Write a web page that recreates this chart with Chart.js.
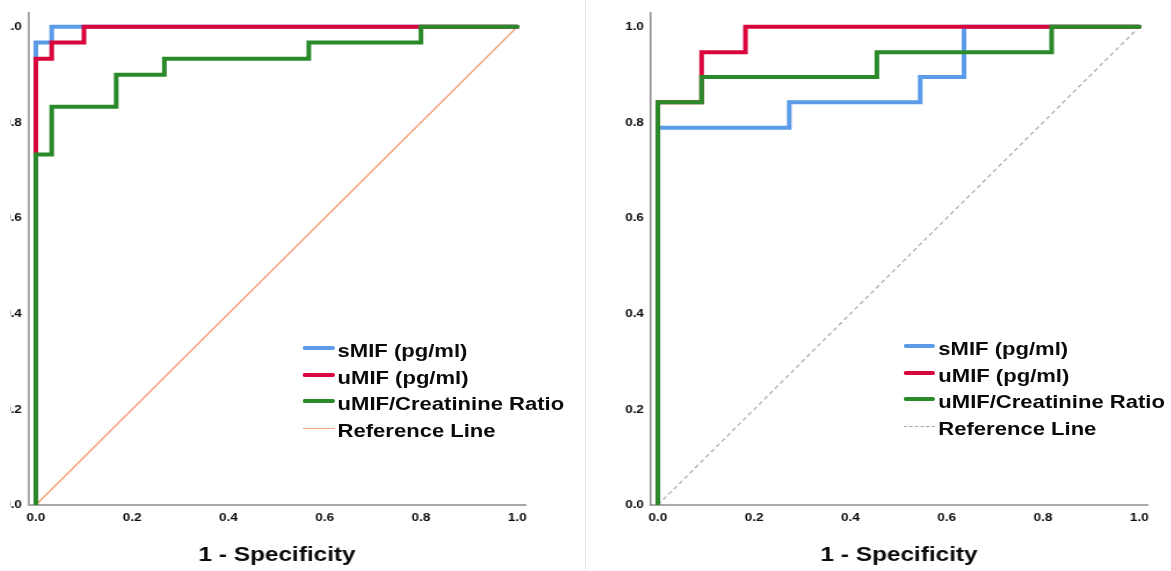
<!DOCTYPE html>
<html>
<head>
<meta charset="utf-8">
<script src="https://cdn.jsdelivr.net/npm/chart.js@4.4.1/dist/chart.umd.min.js"></script>
<style>
  body { margin: 0; width: 1171px; height: 571px; overflow: hidden; background: #fff; font-family: "Liberation Sans", Arial, sans-serif; }
  .clip { position: absolute; top: 0; height: 571px; overflow: hidden; }
  .panel { position: absolute; top: 0; width: 468px; height: 571px; transform: scaleX(1.16); transform-origin: 0 0; }
  .panel canvas { position: absolute; left: 0; top: 0; }
  .legend { position: absolute; font-weight: bold; font-size: 19px; color: #0a0a0a; }
  .legend .row { display: flex; align-items: center; height: 26.7px; white-space: nowrap; }
  .legend .swatch { width: 27.6px; margin-right: 2.6px; position: relative; top: -3px; }
  .divider { position: absolute; left: 585px; top: 0; width: 1px; height: 571px; background: #e8e8e8; }
</style>
</head>
<body>
<div class="clip" style="left:10px; width:575px;">
  <div class="panel" style="left:-15.8px;">
    <canvas id="rocLeft" width="468" height="571"></canvas>
    <div class="legend" id="legendLeft" style="left:266px; top:337.6px;"></div>
  </div>
</div>
<div class="divider"></div>
<div class="panel" style="left:615.7px;">
  <canvas id="rocRight" width="468" height="571"></canvas>
  <div class="legend" id="legendRight" style="left:247.7px; top:335.6px;"></div>
</div>

<script>
// series names and tick labels
const seriesLabels = ['sMIF (pg/ml)', 'uMIF (pg/ml)', 'uMIF/Creatinine Ratio'];
const refLabel = 'Reference Line';
const tickValues = [0, 0.2, 0.4, 0.6, 0.8, 1.0];
const xTitle = '1 - Specificity';

// left panel: ROC points (1 - specificity, sensitivity)
const leftSmifFpr = [0, 0, 0.033, 1];
const leftSmifTpr = [0, 0.967, 1, 1];
const leftUmifFpr = [0, 0, 0.033, 0.1, 1];
const leftUmifTpr = [0, 0.933, 0.967, 1, 1];
const leftRatioFpr = [0, 0, 0.033, 0.167, 0.267, 0.567, 0.8, 1];
const leftRatioTpr = [0, 0.733, 0.833, 0.9, 0.933, 0.967, 1, 1];

// right panel
const rightSmifFpr = [0, 0, 0.273, 0.545, 0.636, 1];
const rightSmifTpr = [0, 0.789, 0.842, 0.895, 1, 1];
const rightUmifFpr = [0, 0, 0.091, 0.182, 1];
const rightUmifTpr = [0, 0.842, 0.947, 1, 1];
const rightRatioFpr = [0, 0, 0.091, 0.455, 0.818, 1];
const rightRatioTpr = [0, 0.842, 0.895, 0.947, 1, 1];

const refFpr = [0, 1];
const refTpr = [0, 1];

const seriesColors = ['#5b9be8', '#d8063c', '#2a8a2a'];

Chart.defaults.font.family = '"Liberation Sans", Arial, sans-serif';

function toPoints(xs, ys) {
    return xs.map((x, i) => ({ x: x, y: ys[i] }));
}

function rocDataset(label, xs, ys, color, order) {
    return {
        label: label,
        data: toPoints(xs, ys),
        borderColor: color,
        borderWidth: 4,
        borderCapStyle: 'round',
        borderJoinStyle: 'miter',
        stepped: 'before',
        pointRadius: 0,
        fill: false,
        order: order
    };
}

function setTicks(scale) {
    scale.ticks = tickValues.map(v => ({ value: v }));
}

function buildChart(canvasId, curves, ref, axis) {
    const datasets = curves.map((c, i) => rocDataset(seriesLabels[i], c[0], c[1], seriesColors[i], 3 - i));
    datasets.push({
        label: refLabel,
        data: toPoints(refFpr, refTpr),
        borderColor: ref.color,
        borderWidth: ref.width,
        borderDash: ref.dash,
        pointRadius: 0,
        fill: false,
        order: 10
    });

    const tickOpts = {
        padding: 6,
        color: '#0a0a0a',
        font: { size: 11.5, weight: 'bold' },
        maxRotation: 0,
        autoSkip: false,
        callback: v => v.toFixed(1)
    };

    return new Chart(document.getElementById(canvasId), {
        type: 'line',
        data: { datasets: datasets },
        options: {
            responsive: false,
            animation: false,
            events: [],
            layout: { padding: { top: 10, right: 10, left: 0, bottom: 0 } },
            plugins: { legend: { display: false }, tooltip: { enabled: false } },
            scales: {
                x: {
                    type: 'linear',
                    min: -0.01455,
                    max: 1.01663,
                    afterBuildTicks: setTicks,
                    afterFit: s => { s.height = 66; },
                    grid: { display: false, drawTicks: false, tickLength: 0 },
                    border: { color: axis.xColor, width: axis.xWidth },
                    ticks: tickOpts,
                    title: {
                        display: true,
                        text: xTitle,
                        color: '#0a0a0a',
                        font: { size: 21, weight: 'bold' },
                        padding: { top: 0, bottom: 3 }
                    }
                },
                y: {
                    type: 'linear',
                    min: 0,
                    max: 1.0291,
                    afterBuildTicks: setTicks,
                    afterFit: s => { s.width = 30; },
                    grid: { display: false, drawTicks: false, tickLength: 0 },
                    border: { color: axis.yColor, width: axis.yWidth },
                    ticks: tickOpts
                }
            }
        }
    });
}

function buildLegend(divId, ref) {
    const box = document.getElementById(divId);
    seriesLabels.forEach((label, i) => {
        const row = document.createElement('div');
        row.className = 'row';
        const sw = document.createElement('div');
        sw.className = 'swatch';
        sw.style.height = '4px';
        sw.style.borderRadius = '2px';
        sw.style.background = seriesColors[i];
        const txt = document.createElement('span');
        txt.textContent = label;
        row.appendChild(sw);
        row.appendChild(txt);
        box.appendChild(row);
    });
    const row = document.createElement('div');
    row.className = 'row';
    const sw = document.createElement('div');
    sw.className = 'swatch';
    sw.style.height = '0';
    sw.style.borderTop = ref.width + 'px ' + (ref.dash.length ? 'dashed ' : 'solid ') + ref.color;
    const txt = document.createElement('span');
    txt.textContent = refLabel;
    row.appendChild(sw);
    row.appendChild(txt);
    box.appendChild(row);
}

const leftRef = { color: '#f5a27c', width: 1.5, dash: [] };
const rightRef = { color: '#a8a8a8', width: 1.2, dash: [4, 3] };

buildChart('rocLeft',
    [[leftSmifFpr, leftSmifTpr], [leftUmifFpr, leftUmifTpr], [leftRatioFpr, leftRatioTpr]],
    leftRef,
    { xColor: '#a8a8a8', xWidth: 2, yColor: '#a8a8a8', yWidth: 2 });

buildChart('rocRight',
    [[rightSmifFpr, rightSmifTpr], [rightUmifFpr, rightUmifTpr], [rightRatioFpr, rightRatioTpr]],
    rightRef,
    { xColor: '#aaaaaa', xWidth: 2, yColor: '#8a8a8a', yWidth: 1.5 });

buildLegend('legendLeft', leftRef);
buildLegend('legendRight', rightRef);
</script>
</body>
</html>
